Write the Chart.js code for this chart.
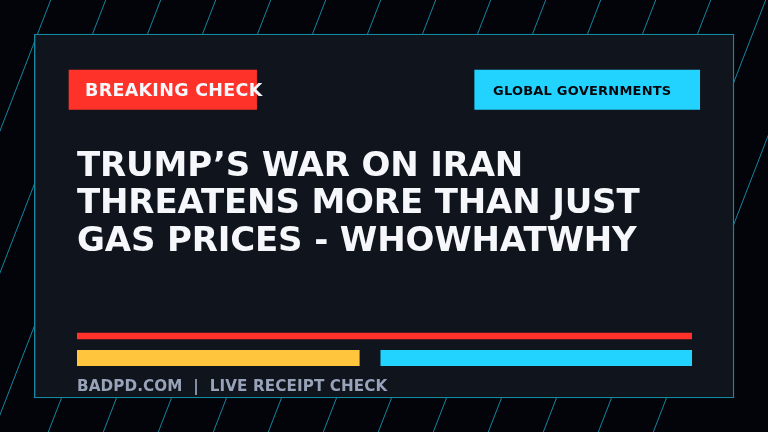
<!DOCTYPE html>
<html>
<head>
<meta charset="utf-8">
<style>
  html, body { margin: 0; padding: 0; background: #030409; }
  canvas { display: block; }
</style>
<script src="https://cdn.jsdelivr.net/npm/chart.js@4"></script>
</head>
<body>
<canvas id="myChart" width="768" height="432"></canvas>
<script>
// meter rows, percent of the meter width
const meterLabels = ['Total', 'Split'];
const meterRed = [[0, 100], null];
const meterYellow = [null, [0, 45.9]];
const meterCyan = [null, [49.4, 100]];

// backdrop stripes, top and bottom crossing of each one
const stripeTop = [50.7, 105.7, 160.7, 215.7, 270.7, 325.7, 380.7, 435.7, 490.7, 545.7, 600.7, 655.7, 710.7, 765.7, 820.7];
const stripeBottom = [-116.7, -61.7, -6.7, 48.3, 103.3, 158.3, 213.3, 268.3, 323.3, 378.3, 433.3, 488.3, 543.3, 598.3, 653.3];

// panel and header chips
const panelSpan = [34.3, 734];
const chipRed = [69, 256.6];
const chipCyan = [474.7, 699.7];

const headline = ['TRUMP’S WAR ON IRAN', 'THREATENS MORE THAN JUST', 'GAS PRICES - WHOWHATWHY'];
const chipRedText = 'BREAKING CHECK';
const chipCyanText = 'GLOBAL GOVERNMENTS';
const footerText = 'BADPD.COM  |  LIVE RECEIPT CHECK';

const datasets = [];

stripeTop.forEach(function (top, i) {
  datasets.push({
    type: 'line',
    xAxisID: 'xPage',
    yAxisID: 'yPage',
    data: [{ x: top, y: 0 }, { x: stripeBottom[i], y: 432 }],
    borderColor: 'rgba(34, 211, 255, 0.62)',
    borderWidth: 1,
    pointRadius: 0,
    clip: false,
    order: 3
  });
});

function pageBar(span, center, thick, fill, order, border) {
  return {
    type: 'bar',
    indexAxis: 'y',
    xAxisID: 'xPage',
    yAxisID: 'yPage',
    grouped: false,
    data: [{ x: span, y: center }],
    barThickness: thick,
    backgroundColor: fill,
    borderColor: border || fill,
    borderWidth: border ? 1.4 : 0,
    borderSkipped: false,
    clip: false,
    order: order
  };
}

datasets.push(pageBar(panelSpan, 216, 364, '#10141d', 2, '#14889f'));
datasets.push(pageBar(chipRed, 89.7, 39.3, '#ff3229', 1));
datasets.push(pageBar(chipCyan, 89.7, 39.3, '#22d3ff', 1));

function meterBar(values, thick, fill) {
  return {
    type: 'bar',
    indexAxis: 'y',
    xAxisID: 'xMeter',
    yAxisID: 'yMeter',
    grouped: false,
    data: values,
    barThickness: thick,
    backgroundColor: fill,
    order: 1
  };
}

datasets.push(meterBar(meterRed, 6, '#ff3229'));
datasets.push(meterBar(meterYellow, 15.4, '#ffc53d'));
datasets.push(meterBar(meterCyan, 15.4, '#22d3ff'));

function putText(ctx, text, x, y, font, color, spacing) {
  ctx.font = font;
  ctx.fillStyle = color;
  ctx.letterSpacing = spacing;
  ctx.textAlign = 'left';
  ctx.textBaseline = 'alphabetic';
  ctx.fillText(text, x, y);
}

const posterText = {
  id: 'posterText',
  afterDatasetsDraw: function (chart) {
    const ctx = chart.ctx;
    ctx.save();
    putText(ctx, chipRedText, 85, 96, 'bold 17.5px "DejaVu Sans"', '#f5f7fb', '0.3px');
    putText(ctx, chipCyanText, 493, 95, 'bold 13px "DejaVu Sans"', '#05070c', '0.22px');
    headline.forEach(function (line, i) {
      putText(ctx, line, 77, 175.7 + i * 37.4, 'bold 34px "DejaVu Sans"', '#f5f7fb', '-0.15px');
    });
    putText(ctx, footerText, 77, 390.5, 'bold 15.2px "DejaVu Sans"', '#98a2b8', '0.1px');
    ctx.restore();
  }
};

new Chart(document.getElementById('myChart'), {
  type: 'bar',
  data: { labels: meterLabels, datasets: datasets },
  plugins: [posterText],
  options: {
    responsive: false,
    animation: false,
    devicePixelRatio: 1,
    layout: { padding: { left: 77, right: 76, top: 325, bottom: 63 } },
    plugins: { legend: { display: false }, title: { display: false }, tooltip: { enabled: false } },
    scales: {
      xMeter: { type: 'linear', axis: 'x', min: 0, max: 100, offset: false, display: false },
      yMeter: { type: 'category', axis: 'y', offset: true, display: false },
      xPage: { type: 'linear', axis: 'x', min: 77, max: 692, offset: false, display: false },
      yPage: { type: 'linear', axis: 'y', min: 325, max: 369, reverse: true, offset: false, display: false }
    }
  }
});
</script>
</body>
</html>
